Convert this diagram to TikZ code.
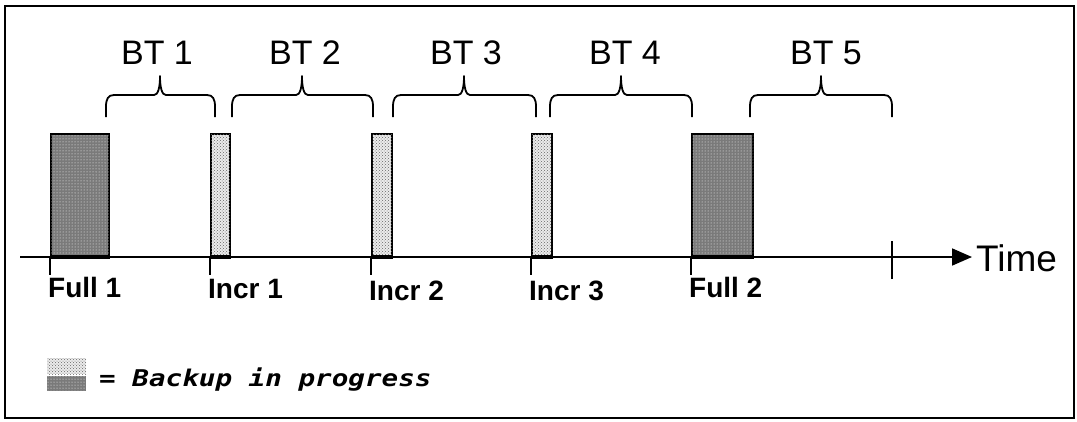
\documentclass[tikz,border=0pt]{standalone}
\usepackage{graphicx}
\usepackage{fontspec}
\setmainfont{Liberation Sans}
\newfontfamily\legendfont{DejaVu Sans Mono}
\usetikzlibrary{patterns,arrows.meta}

% curly bracket spanning one backup interval
\newcommand\timebrace[3]{%
  \draw[bracestyle] (#1,117) -- (#1,107)
    .. controls (#1,99) and ({#1+2},95) .. ({#1+8},95)
    -- ({#3-6},95)
    .. controls ({#3-2},95) and (#3,88) .. (#3,76)
    .. controls (#3,88) and ({#3+2},95) .. ({#3+6},95)
    -- ({#2-8},95)
    .. controls ({#2-2},95) and (#2,99) .. (#2,107) -- (#2,117);}

\begin{document}
\begin{tikzpicture}[x=1pt,y=-1pt,
  fullbox/.style={draw, line width=2pt, fill=black!52,
    postaction={pattern=dots, pattern color=white},
    inner sep=0, anchor=south west, minimum height=122pt},
  incrbox/.style={draw, line width=2pt, fill=black!8,
    postaction={pattern=crosshatch dots, pattern color=black!60},
    inner sep=0, anchor=south west, minimum height=122pt, minimum width=19pt},
  ticklab/.style={anchor=base west, inner sep=0, font=\bfseries\fontsize{28}{32}\selectfont},
  btlab/.style={anchor=base, inner sep=0, font=\fontsize{34}{40}\selectfont},
  tick/.style={line width=1.7pt},
  bracestyle/.style={line width=1.8pt, line join=round},
  axis/.style={line width=1.8pt, -{Triangle[length=20pt,width=17pt]}}]

\useasboundingbox (0,0) rectangle (1077,421);
\draw[line width=2.2pt] (5,6) rectangle (1074,418);

% time axis
\coordinate (ax0) at (20,257);
\node[anchor=base west, inner sep=0, font=\fontsize{37}{42}\selectfont] (time) at (976,271) {Time};
\draw[axis] (ax0) -- ([xshift=-4pt]ax0 -| time.west);

% backup boxes
\node[fullbox, minimum width=58pt] (f1) at (50,257) {};
\node[incrbox] (i1) at (210,257) {};
\node[incrbox, minimum width=20pt] (i2) at (371,257) {};
\node[incrbox, minimum width=20pt] (i3) at (531,257) {};
\node[fullbox, minimum width=61pt] (f2) at (691,257) {};
\foreach \b in {f1,i1,i2,i3,f2}{
  \draw[line width=3.2pt] (\b.south west) -- (\b.south east);
  \draw[tick] (\b.south west) -- ++(0,18);
}
\coordinate (endtick) at (892,257);
\draw[tick] ([yshift=-22pt]endtick) -- ([yshift=16pt]endtick);

% tick labels
\node[ticklab] (lf1) at (48,297) {Full 1};
\node[ticklab] (li1) at (208,298) {Incr 1};
\node[ticklab] (li2) at (369,300) {Incr 2};
\node[ticklab] (li3) at (529,300) {Incr 3};
\node[ticklab] (lf2) at (689,297) {Full 2};

% backup intervals
\timebrace{106}{215}{160}
\timebrace{232}{373}{302}
\timebrace{393}{536}{464}
\timebrace{550}{692}{621}
\timebrace{750}{892}{821}
\node[btlab] (bt1) at (157,64) {BT 1};
\node[btlab] (bt2) at (305,64) {BT 2};
\node[btlab] (bt3) at (466,64) {BT 3};
\node[btlab] (bt4) at (625,64) {BT 4};
\node[btlab] (bt5) at (826,64) {BT 5};

% legend
\path[fill=black!8, postaction={pattern=crosshatch dots, pattern color=black!60}] (47,358) rectangle (86,374);
\path[fill=black!52, postaction={pattern=dots, pattern color=white}] (47,376) rectangle (86,391);
\node[anchor=base west, inner sep=0] (legend) at (99,386)
  {\scalebox{1.2}[1]{\legendfont\bfseries\itshape\fontsize{23}{26}\selectfont = Backup in progress}};
\end{tikzpicture}
\end{document}
